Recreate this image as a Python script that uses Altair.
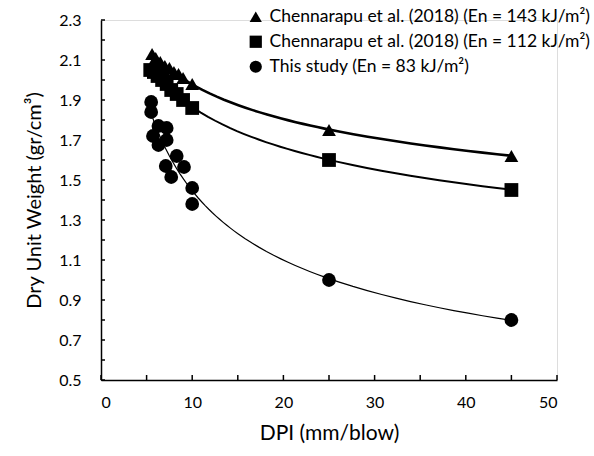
import altair as alt
import pandas as pd

FONT = "Lato"

# --- data ---
series_names = [
    "Chennarapu et al. (2018) (En = 143 kJ/m²)",
    "Chennarapu et al. (2018) (En = 112 kJ/m²)",
    "This study (En = 83 kJ/m²)",
]

tri_x = [5.6, 6.0, 6.5, 7.0, 7.5, 8.0, 8.5, 9.0, 10.0, 25, 45]
tri_y = [2.13, 2.11, 2.09, 2.07, 2.06, 2.04, 2.03, 2.01, 1.98, 1.75, 1.62]

sq_x = [5.4, 5.8, 6.2, 6.7, 7.2, 7.7, 8.3, 9.0, 10.0, 25, 45]
sq_y = [2.05, 2.04, 2.02, 2.00, 1.98, 1.95, 1.93, 1.90, 1.86, 1.60, 1.45]

circ_x = [5.5, 5.5, 6.3, 7.2, 5.7, 7.2, 6.3, 8.3, 7.1, 9.1, 7.7, 10.0, 10.0, 25, 45]
circ_y = [1.89, 1.84, 1.77, 1.76, 1.72, 1.70, 1.675, 1.62, 1.57, 1.565, 1.515, 1.46, 1.38, 1.00, 0.80]

x_labels = [0, 10, 20, 30, 40, 50]
x_minor = [0, 5, 10, 15, 20, 25, 30, 35, 40, 45, 50]
y_labels = [0.5, 0.7, 0.9, 1.1, 1.3, 1.5, 1.7, 1.9, 2.1, 2.3]
y_minor = [0.5, 0.6, 0.7, 0.8, 0.9, 1.0, 1.1, 1.2, 1.3, 1.4, 1.5, 1.6, 1.7,
           1.8, 1.9, 2.0, 2.1, 2.2, 2.3]

rows = []
for name, xs, ys in zip(series_names, [tri_x, sq_x, circ_x], [tri_y, sq_y, circ_y]):
    for xv, yv in zip(xs, ys):
        rows.append({"series": name, "DPI": xv, "DUW": yv})
df = pd.DataFrame(rows)

W, H = 456, 360

xscale = alt.Scale(domain=[0, 50], nice=False, zero=False)
yscale = alt.Scale(domain=[0.5, 2.3], nice=False, zero=False)

xaxis = alt.Axis(values=x_labels, format="d", title="DPI (mm/blow)",
                 ticks=False, grid=False, domainColor="black",
                 domainWidth=1.5, labelFontSize=16, labelFont=FONT,
                 labelColor="black", labelPadding=14, labelOverlap=False,
                 titleFont=FONT, titleFontSize=21, titleFontWeight="normal",
                 titleColor="black", titlePadding=12)
yaxis = alt.Axis(values=y_labels, format=".1f",
                 title="Dry Unit Weight (gr/cm³)",
                 ticks=False, grid=False, domainColor="black",
                 domainWidth=1.5, labelFontSize=16, labelFont=FONT,
                 labelColor="black", labelPadding=20, labelOverlap=False,
                 titleFont=FONT, titleFontSize=20, titleFontWeight="normal",
                 titleColor="black", titlePadding=14)

base = alt.Chart(df)

lines = base.transform_regression(
    "DPI", "DUW", groupby=["series"], method="pow"
).mark_line(color="black").encode(
    x=alt.X("DPI:Q", scale=xscale, axis=xaxis),
    y=alt.Y("DUW:Q", scale=yscale, axis=yaxis),
    strokeWidth=alt.StrokeWidth("series:N",
                                scale=alt.Scale(domain=series_names, range=[2.6, 1.2, 1.2]),
                                legend=None),
    detail="series:N",
)

points = base.mark_point(filled=True, opacity=1, color="black", size=190).encode(
    x=alt.X("DPI:Q", scale=xscale, axis=xaxis),
    y=alt.Y("DUW:Q", scale=yscale, axis=yaxis),
    shape=alt.Shape("series:N",
                    scale=alt.Scale(domain=series_names,
                                    range=["triangle-up", "square", "circle"]),
                    legend=alt.Legend(title=None, orient="none", legendX=146,
                                      legendY=-12, labelFont=FONT, labelFontSize=17.5,
                                      labelColor="black", symbolSize=150,
                                      symbolFillColor="black", symbolStrokeColor="black",
                                      symbolStrokeWidth=0, rowPadding=6,
                                      labelOffset=5, labelLimit=400)),
)

# inward tick marks
xt = alt.Chart(pd.DataFrame({"t": x_minor})).mark_rule(color="black", strokeWidth=1.5).encode(
    x=alt.X("t:Q", scale=xscale, axis=xaxis),
    y=alt.value(H),
    y2=alt.value(H - 5),
)
yt = alt.Chart(pd.DataFrame({"t": y_minor})).mark_rule(color="black", strokeWidth=1.5).encode(
    y=alt.Y("t:Q", scale=yscale, axis=yaxis),
    x=alt.value(0),
    x2=alt.value(4),
)

chart = alt.layer(lines, points, xt, yt).resolve_legend(
    shape="independent", strokeWidth="independent"
).properties(
    width=W, height=H,
    autosize=alt.AutoSizeParams(type="none"),
    padding={"left": 101, "top": 20, "right": 37, "bottom": 76},
).configure_view(stroke=None).configure(background="white")

chart.save("out.html", embed_options={"renderer": "svg", "actions": False})
